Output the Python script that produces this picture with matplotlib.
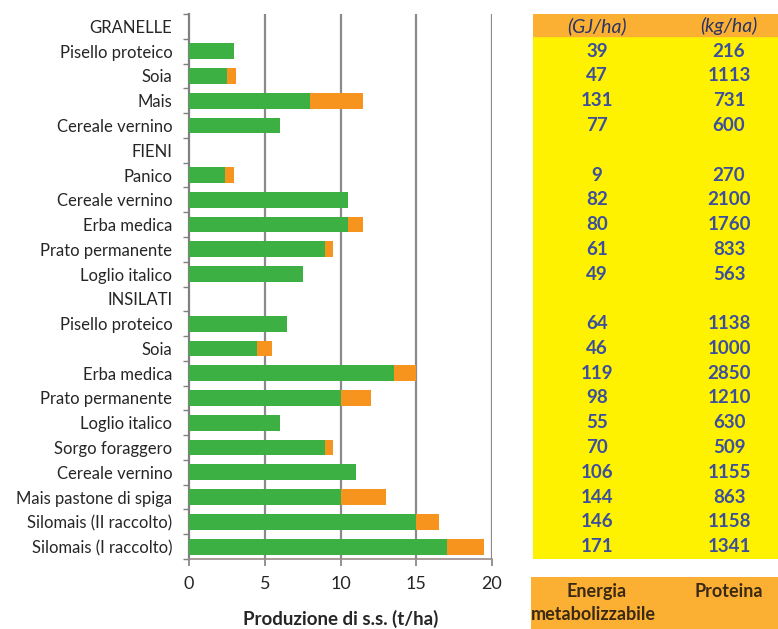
import matplotlib
matplotlib.use("Agg")
import matplotlib.pyplot as plt
from matplotlib.patches import Rectangle
import numpy as np

plt.rcParams['font.family'] = ['Lato', 'DejaVu Sans']

categories = ["GRANELLE", "Pisello proteico", "Soia", "Mais", "Cereale vernino",
              "FIENI", "Panico", "Cereale vernino", "Erba medica", "Prato permanente",
              "Loglio italico", "INSILATI", "Pisello proteico", "Soia", "Erba medica",
              "Prato permanente", "Loglio italico", "Sorgo foraggero", "Cereale vernino",
              "Mais pastone di spiga", "Silomais (II raccolto)", "Silomais (I raccolto)"]
# group headers have 0 values
green = [0, 3.0, 2.5, 8.0, 6.0,
         0, 2.4, 10.5, 10.5, 9.0,
         7.5, 0, 6.5, 4.5, 13.5,
         10.0, 6.0, 9.0, 11.0,
         10.0, 15.0, 17.0]
orange = [0, 0, 0.6, 3.5, 0,
          0, 0.6, 0, 1.0, 0.5,
          0, 0, 0, 1.0, 1.5,
          2.0, 0, 0.5, 0,
          3.0, 1.5, 2.5]
energia = [None, "39", "47", "131", "77",
           None, "9", "82", "80", "61",
           "49", None, "64", "46", "119",
           "98", "55", "70", "106",
           "144", "146", "171"]
proteina = [None, "216", "1113", "731", "600",
            None, "270", "2100", "1760", "833",
            "563", None, "1138", "1000", "2850",
            "1210", "630", "509", "1155",
            "863", "1158", "1341"]
xticks = [0, 5, 10, 15, 20]
header_units = ["(GJ/ha)", "(kg/ha)"]

GREEN = "#3cb043"
ORANGE = "#f7941d"
YELLOW = "#fff200"
HEAD = "#fbb034"
NUM = "#3b4f9c"
TXT = "#262626"

W, H = 778, 629
fig = plt.figure(figsize=(W / 100, H / 100), dpi=100)

n = len(categories)
ax = fig.add_axes([189 / W, 1 - 559 / H, (492 - 189) / W, (559 - 14) / H])
y = np.arange(n)
ax.barh(y, green, height=0.64, color=GREEN, zorder=3)
ax.barh(y, orange, left=green, height=0.64, color=ORANGE, zorder=3)
ax.set_ylim(n - 0.5, -0.5)
ax.set_xlim(0, 20)
ax.set_yticks(y)
ax.set_yticklabels(categories, fontsize=12, color=TXT)
ax.set_yticks(np.arange(-0.5, n, 1), minor=True)
ax.tick_params(axis="y", which="major", length=0, pad=12)
ax.tick_params(axis="y", which="minor", length=4, color="#808080", width=1)
ax.set_xticks(xticks)
ax.tick_params(axis="x", length=5, color="#808080", width=1.2, labelsize=13,
               labelcolor=TXT, pad=7)
for xv in xticks[1:]:
    ax.axvline(xv, color="#8a8a8a", lw=1.6, zorder=1)
for s in ["top", "right"]:
    ax.spines[s].set_visible(False)
ax.spines["left"].set_color("#808080")
ax.spines["left"].set_linewidth(1.6)
ax.spines["bottom"].set_color("#9a8a8a")
ax.spines["bottom"].set_linewidth(1.2)
ax.set_xlabel("Produzione di s.s. (t/ha)", fontsize=13.5, fontweight="bold",
              color=TXT, labelpad=13)

# Table axes sharing rows
tx = fig.add_axes([533 / W, 1 - 559 / H, (W - 533) / W, (559 - 14) / H])
tx.set_xlim(0, 1)
tx.set_ylim(n - 0.5, -0.5)
tx.axis("off")
tx.add_patch(Rectangle((0, -0.5), 1, n, color=YELLOW, zorder=0))
tx.add_patch(Rectangle((0, -0.55), 1, 0.95, color=HEAD, zorder=1))
c1, c2 = (597 - 533) / (W - 533), (729 - 533) / (W - 533)
tx.text(c1, 0, header_units[0], ha="center", va="center", fontsize=14,
        style="italic", color="#2a3466", zorder=2)
tx.text(c2, 0, header_units[1], ha="center", va="center", fontsize=14,
        style="italic", color="#2a3466", zorder=2)
for i in range(n):
    if energia[i] is not None:
        tx.text(c1, i, energia[i], ha="center", va="center", fontsize=13.5,
                fontweight="bold", color=NUM, zorder=2)
    if proteina[i] is not None:
        tx.text(c2, i, proteina[i], ha="center", va="center", fontsize=13.5,
                fontweight="bold", color=NUM, zorder=2)

# Footer box
fx = fig.add_axes([531 / W, 0, (W - 531) / W, (629 - 577) / H])
fx.set_xlim(0, 1)
fx.set_ylim(0, 1)
fx.axis("off")
fx.add_patch(Rectangle((0, 0), 1, 1, color=HEAD, zorder=0))
fx.text((597 - 531) / (W - 531), 0.72, "Energia", ha="center", va="center",
        fontsize=13, fontweight="bold", color="#3a2a14")
fx.text(0.0, 0.28, "metabolizzabile", ha="left", va="center",
        fontsize=13, fontweight="bold", color="#3a2a14")
fx.text((729 - 531) / (W - 531), 0.72, "Proteina", ha="center", va="center",
        fontsize=13, fontweight="bold", color="#3a2a14")

fig.savefig("out.png", dpi=100)
